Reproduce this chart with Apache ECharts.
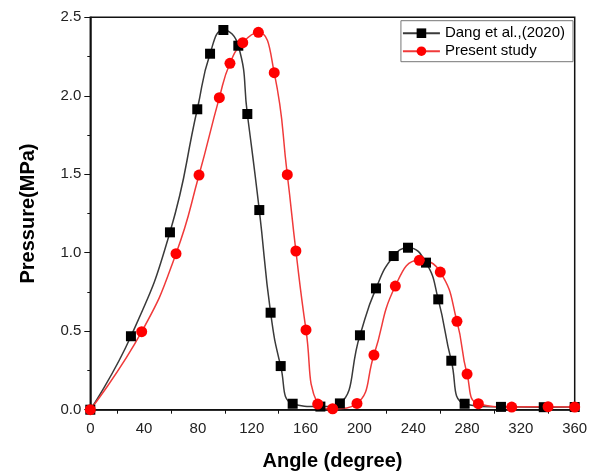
<!DOCTYPE html>
<html>
<head>
<meta charset="utf-8">
<script src="https://cdn.jsdelivr.net/npm/echarts@6/dist/echarts.min.js"></script>
<style>html,body{margin:0;padding:0;background:#fff;}#c{width:596px;height:472px;}</style>
</head>
<body>
<div id="c"></div>
<script>
var dangAngle = [0, 30.2, 59.2, 79.5, 89, 98.9, 110, 116.7, 125.6, 134, 141.5, 150.4, 171, 185.5, 200.4, 212.3, 225.5, 236.1, 249.5, 258.6, 268.3, 278.2, 305.2, 337, 360];
var dangPressure = [0, 0.468, 1.13, 1.914, 2.268, 2.419, 2.319, 1.884, 1.272, 0.618, 0.278, 0.038, 0.02, 0.04, 0.474, 0.773, 0.979, 1.032, 0.937, 0.703, 0.312, 0.038, 0.018, 0.016, 0.017];
var presentAngle = [0, 38.2, 63.7, 80.8, 95.9, 103.8, 113.3, 124.9, 136.7, 146.4, 152.8, 160.3, 169, 180.1, 198.2, 210.8, 226.7, 244.5, 260.1, 272.5, 280, 288.4, 313.2, 340.2, 360];
var presentPressure = [0, 0.497, 0.994, 1.495, 1.988, 2.207, 2.338, 2.404, 2.147, 1.497, 1.011, 0.508, 0.036, 0.006, 0.04, 0.348, 0.788, 0.952, 0.877, 0.563, 0.227, 0.038, 0.017, 0.019, 0.017];
var seriesNames = ['Dang et al.,(2020)', 'Present study'];

function pairs(xs, ys) { return xs.map(function (x, i) { return [x, ys[i]]; }); }

var font = 'Liberation Sans, Arial, sans-serif';
var chart = echarts.init(document.getElementById('c'));
chart.setOption({
  animation: false,
  backgroundColor: '#fff',
  grid: { left: 90.3, right: 21.3, top: 17.3, bottom: 62.3, show: true, borderColor: '#111', borderWidth: 1.5, containLabel: false, outerBoundsMode: 'none' },
  legend: {
    orient: 'vertical', right: 23, top: 20.7,
    data: seriesNames,
    borderColor: '#777', borderWidth: 1, padding: [5, 8, 3, 1],
    itemWidth: 37, itemHeight: 12, itemGap: 3,
    textStyle: { fontFamily: font, fontSize: 15, color: '#000' }
  },
  xAxis: {
    type: 'value', min: 0, max: 360, interval: 40,
    name: 'Angle (degree)', nameLocation: 'middle', nameGap: 42,
    nameTextStyle: { fontFamily: font, fontSize: 20, fontWeight: 'bold', color: '#000' },
    axisLine: { show: true, lineStyle: { color: '#111', width: 1.5 } },
    axisTick: { show: false },
    minorTick: { show: true, splitNumber: 2, length: 4, lineStyle: { color: '#111', width: 1 } },
    splitLine: { show: false },
    axisLabel: { fontFamily: font, fontSize: 15, color: '#222', margin: 12 }
  },
  yAxis: {
    type: 'value', min: 0, max: 2.5, interval: 0.5,
    name: 'Pressure(MPa)', nameLocation: 'middle', nameGap: 52,
    nameTextStyle: { fontFamily: font, fontSize: 20, fontWeight: 'bold', color: '#000' },
    axisLine: { show: true, lineStyle: { color: '#111', width: 1.5 } },
    axisTick: { show: true, length: 6, lineStyle: { color: '#111', width: 1 } },
    minorTick: { show: true, splitNumber: 2, length: 3, lineStyle: { color: '#111', width: 1 } },
    splitLine: { show: false },
    axisLabel: { fontFamily: font, fontSize: 15, color: '#222', margin: 9, formatter: function (v) { return v.toFixed(1); } }
  },
  series: [
    {
      name: seriesNames[0], type: 'line', smooth: 0.5,
      data: pairs(dangAngle, dangPressure),
      symbol: 'rect', symbolSize: 10,
      lineStyle: { color: '#3a3a3a', width: 1.5 },
      itemStyle: { color: '#000' }
    },
    {
      name: seriesNames[1], type: 'line', smooth: 0.5,
      data: pairs(presentAngle, presentPressure),
      symbol: 'circle', symbolSize: 11,
      lineStyle: { color: '#f03a3a', width: 1.5 },
      itemStyle: { color: '#ff0000' }
    }
  ]
});
</script>
</body>
</html>
